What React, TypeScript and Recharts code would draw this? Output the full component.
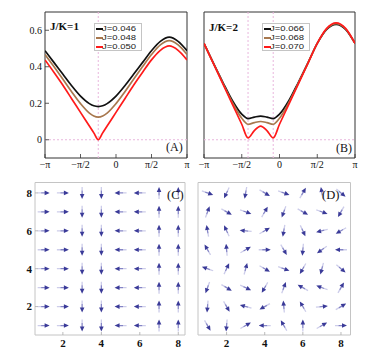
import React from 'react';
import { LineChart, Line, XAxis, YAxis, ReferenceLine, ReferenceArea, ScatterChart, Scatter } from 'recharts';

const PI = Math.PI;

// ---- Panel A (J/K=1), k in units of pi ----
const kA = [-1, -0.875, -0.75, -0.625, -0.5, -0.375, -0.3125, -0.25, -0.1875, -0.125, 0, 0.125, 0.25, 0.375, 0.5, 0.625, 0.75, 0.875, 1];
const blackA = [0.488, 0.424, 0.36, 0.296, 0.239, 0.198, 0.186, 0.182, 0.186, 0.198, 0.239, 0.296, 0.36, 0.424, 0.488, 0.539, 0.562, 0.539, 0.488];
const brownA = [0.467, 0.401, 0.333, 0.263, 0.198, 0.146, 0.13, 0.124, 0.13, 0.146, 0.198, 0.263, 0.333, 0.401, 0.467, 0.52, 0.543, 0.52, 0.467];
const redA = [0.4375, 0.37, 0.3, 0.225, 0.15, 0.075, 0.0375, 0, 0.0375, 0.075, 0.15, 0.225, 0.3, 0.37, 0.4375, 0.49, 0.514, 0.49, 0.4375];
const legendA = ['J=0.046', 'J=0.048', 'J=0.050'];

// ---- Panel B (J/K=2) ----
const kB = [-1, -0.875, -0.75, -0.625, -0.5, -0.4167, -0.3333, -0.25, -0.1667, -0.0833, 0, 0.125, 0.25, 0.375, 0.5, 0.625, 0.75, 0.875, 1];
const blackB = [0.528, 0.42, 0.315, 0.215, 0.14, 0.116, 0.124, 0.13, 0.124, 0.116, 0.14, 0.215, 0.315, 0.42, 0.528, 0.605, 0.632, 0.605, 0.528];
const brownB = [0.528, 0.418, 0.31, 0.205, 0.118, 0.085, 0.094, 0.1, 0.094, 0.085, 0.118, 0.205, 0.31, 0.418, 0.528, 0.607, 0.636, 0.607, 0.528];
const redB = [0.528, 0.417, 0.306, 0.195, 0.085, 0.01, 0.05, 0.075, 0.05, 0.01, 0.085, 0.195, 0.306, 0.417, 0.528, 0.61, 0.64, 0.61, 0.528];
const legendB = ['J=0.066', 'J=0.068', 'J=0.070'];

const xTicks = [-PI, -PI / 2, 0, PI / 2, PI];
const xTickLabels = ['\u2212\u03c0', '\u2212\u03c0/2', '0', '\u03c0/2', '\u03c0'];
const yTicksA = [0, 0.2, 0.4, 0.6];
const yTickLabelsA = ['0', '0.2', '0.4', '0.6'];
const dashedA = [-0.25];
const dashedB = [-0.4167, -0.0833];

// ---- Panels C, D: arrow angles (degrees), rows from y=8 (top) to y=1 ----
const gridTicks = [2, 4, 6, 8];
const anglesC = [
  [0, 0, -90, -90, 180, 180, 90, 90],
  [0, 0, -90, -90, 180, 180, 90, 90],
  [0, 0, -90, -90, 180, 180, 90, 90],
  [0, 0, -90, -90, 180, 180, 90, 90],
  [0, 0, -90, -90, 180, 180, 90, 90],
  [0, 0, -90, -90, 180, 180, 90, 90],
  [0, 0, -90, -90, 180, 180, 90, 90],
  [0, 0, -90, -90, 180, 180, 90, 90],
];
const anglesD = [
  [-20, -115, -100, -30, -20, 60, 100, -40],
  [70, -30, -20, 60, -110, -30, -20, -120],
  [100, 115, 175, 30, -100, -65, 195, -150],
  [120, 95, 30, 0, -60, -95, -145, 180],
  [160, 65, 75, -30, -20, -120, -105, -40],
  [-110, -30, -25, -120, 70, 150, 160, 60],
  [-95, -60, 165, -150, 95, 120, 5, 30],
  [-60, -95, 30, 180, 120, 90, 30, 0],
];

const BLACK = '#111111';
const BROWN = '#a8784e';
const RED = '#ff1a1a';
const PINK = '#e9b6dd';
const SERIF = '"Liberation Serif", "DejaVu Serif", serif';
const SANS = '"Liberation Sans", Arial, sans-serif';

const makeRows = (ks: number[], b: number[], br: number[], r: number[]) =>
  ks.map((k, i) => ({ k: k * PI, black: b[i], brown: br[i], red: r[i] }));
const dataA = makeRows(kA, blackA, brownA, redA);
const dataB = makeRows(kB, blackB, brownB, redB);

const makeGrid = (angles: number[][]) => {
  const pts: { x: number; y: number; a: number }[] = [];
  angles.forEach((row, r) => row.forEach((a, c) => pts.push({ x: c + 1, y: 8 - r, a })));
  return pts;
};
const gridC = makeGrid(anglesC);
const gridD = makeGrid(anglesD);

const TM = 3;
const XTickLine = (props: any) => {
  const { x, y, payload } = props;
  const idx = xTicks.findIndex((t) => Math.abs(t - payload.value) < 1e-6);
  const ay = y - TM;
  return (
    <g>
      <line x1={x} x2={x} y1={ay} y2={ay - 4} stroke="#333" strokeWidth={0.8} />
      <text x={x} y={y} dy="0.71em" textAnchor="middle" fontFamily={SERIF} fontSize={10} fill="#111">
        {idx >= 0 ? xTickLabels[idx] : ''}
      </text>
    </g>
  );
};
const YTickLine = (props: any) => {
  const { x, y, payload } = props;
  const idx = yTicksA.findIndex((t) => Math.abs(t - payload.value) < 1e-6);
  const ax = x + TM;
  return (
    <g>
      <line x1={ax} x2={ax + 4} y1={y} y2={y} stroke="#333" strokeWidth={0.8} />
      <text x={x} y={y} dy="0.355em" textAnchor="end" fontFamily={SERIF} fontSize={10} fill="#111">
        {idx >= 0 ? yTickLabelsA[idx] : ''}
      </text>
    </g>
  );
};
const GM = 4;
const GridXTick = (props: any) => {
  const { x, y, payload } = props;
  const ay = y - GM;
  return (
    <g>
      <line x1={x} x2={x} y1={ay} y2={ay - 3} stroke="#aaa" strokeWidth={0.8} />
      <text x={x} y={y} dy="0.71em" textAnchor="middle" fontFamily={SERIF} fontWeight="bold" fontSize={11} fill="#111">
        {payload.value}
      </text>
    </g>
  );
};
const GridYTick = (props: any) => {
  const { x, y, payload } = props;
  const ax = x + 3;
  return (
    <g>
      <line x1={ax} x2={ax + 3} y1={y} y2={y} stroke="#aaa" strokeWidth={0.8} />
      <text x={x} y={y} dy="0.355em" textAnchor="end" fontFamily={SERIF} fontWeight="bold" fontSize={11} fill="#111">
        {payload.value}
      </text>
    </g>
  );
};

const Arrow = (props: any) => {
  const { cx, cy, payload } = props;
  if (cx == null || cy == null) return null;
  const a = (payload.a * PI) / 180;
  const ux = Math.cos(a);
  const uy = -Math.sin(a);
  const L = 12;
  const H = 5;
  const W = 2.3;
  const tx = cx - (ux * L) / 2;
  const ty = cy - (uy * L) / 2;
  const hx = cx + (ux * L) / 2;
  const hy = cy + (uy * L) / 2;
  const bx = hx - ux * H;
  const by = hy - uy * H;
  const mx = (tx + bx) / 2;
  const my = (ty + by) / 2;
  const px = -uy;
  const py = ux;
  return (
    <g>
      <line x1={tx} y1={ty} x2={mx} y2={my} stroke="#cdcdea" strokeWidth={1.3} />
      <line x1={mx} y1={my} x2={bx + ux * 0.5} y2={by + uy * 0.5} stroke="#8585c6" strokeWidth={1.3} />
      <polygon
        points={`${hx},${hy} ${bx + px * W},${by + py * W} ${bx - px * W},${by - py * W}`}
        fill="#3a3a98"
      />
    </g>
  );
};

const LegendBox = ({ left, labels }: { left: number; labels: string[] }) => {
  const colors = [BLACK, BROWN, RED];
  return (
    <div
      style={{
        position: 'absolute',
        left,
        top: 23,
        width: 48,
        height: 28,
        border: '1px solid #c4c4c4',
        background: '#fff',
        boxSizing: 'border-box',
      }}
    >
      {labels.map((lab, i) => (
        <div key={lab} style={{ position: 'absolute', left: 0, top: i * 9, height: 9, width: 46 }}>
          <div style={{ position: 'absolute', left: 1, top: 4, width: 7, height: 1.6, background: colors[i] }} />
          <div
            style={{
              position: 'absolute',
              left: 7,
              top: 0,
              fontFamily: SANS,
              fontSize: 9.5,
              lineHeight: '9px',
              height: 9,
              color: '#222',
              whiteSpace: 'nowrap',
              transform: 'scale(1, 0.84)',
              transformOrigin: '0 50%',
            }}
          >
            {lab}
          </div>
        </div>
      ))}
    </div>
  );
};

const textStyle = (left: number, top: number, size: number, bold = false): React.CSSProperties => ({
  position: 'absolute',
  left,
  top,
  fontFamily: SERIF,
  fontSize: size,
  fontWeight: bold ? 'bold' : 'normal',
  lineHeight: `${size + 1}px`,
  color: '#111',
  whiteSpace: 'nowrap',
});

const Lines = () => (
  <>
    <Line type="monotone" dataKey="black" stroke={BLACK} strokeWidth={1.7} dot={false} isAnimationActive={false} />
    <Line type="monotone" dataKey="brown" stroke={BROWN} strokeWidth={1.7} dot={false} isAnimationActive={false} />
    <Line type="monotone" dataKey="red" stroke={RED} strokeWidth={1.7} dot={false} isAnimationActive={false} />
  </>
);

export default function App() {
  return (
    <div style={{ position: 'absolute', left: 0, top: 0, width: 382, height: 355, background: '#fff', overflow: 'hidden' }}>
      {/* Panel A */}
      <div style={{ position: 'absolute', left: 0, top: 0 }}>
        <LineChart width={191} height={175} data={dataA} margin={{ top: 12, right: 4, bottom: 0, left: 15 }}>
          <XAxis
            type="number"
            dataKey="k"
            domain={[-PI, PI]}
            ticks={xTicks}
            tick={<XTickLine />}
            tickSize={0}
            tickMargin={TM}
            height={17}
            axisLine={false}
            allowDataOverflow
            interval={0}
          />
          <YAxis
            type="number"
            domain={[-0.1, 0.7]}
            ticks={yTicksA}
            tick={<YTickLine />}
            tickSize={0}
            tickMargin={TM}
            width={30}
            axisLine={false}
            allowDataOverflow
            interval={0}
          />
          {dashedA.map((d) => (
            <ReferenceLine key={d} x={d * PI} stroke={PINK} strokeDasharray="2 2" />
          ))}
          <ReferenceLine y={0} stroke={PINK} strokeDasharray="2 2" />
          {Lines()}
          <ReferenceArea x1={-PI} x2={PI} y1={-0.1} y2={0.7} fill="none" fillOpacity={0} stroke="#333" strokeWidth={1} ifOverflow="visible" />
        </LineChart>
      </div>
      {/* Panel B */}
      <div style={{ position: 'absolute', left: 191, top: 0 }}>
        <LineChart width={191} height={175} data={dataB} margin={{ top: 12, right: 27, bottom: 0, left: 13 }}>
          <XAxis
            type="number"
            dataKey="k"
            domain={[-PI, PI]}
            ticks={xTicks}
            tick={<XTickLine />}
            tickSize={0}
            tickMargin={TM}
            height={17}
            axisLine={false}
            allowDataOverflow
            interval={0}
          />
          <YAxis type="number" domain={[-0.1, 0.7]} hide allowDataOverflow />
          {dashedB.map((d) => (
            <ReferenceLine key={d} x={d * PI} stroke={PINK} strokeDasharray="2 2" />
          ))}
          <ReferenceLine y={0} stroke={PINK} strokeDasharray="2 2" />
          {Lines()}
          <ReferenceArea x1={-PI} x2={PI} y1={-0.1} y2={0.7} fill="none" fillOpacity={0} stroke="#333" strokeWidth={1} ifOverflow="visible" />
        </LineChart>
      </div>
      {/* Panel C */}
      <div style={{ position: 'absolute', left: 0, top: 175 }}>
        <ScatterChart width={191} height={180} margin={{ top: 7.5, right: 6, bottom: 0, left: 0 }}>
          <XAxis
            type="number"
            dataKey="x"
            domain={[0.55, 8.35]}
            ticks={gridTicks}
            tick={<GridXTick />}
            tickSize={0}
            tickMargin={GM}
            height={20}
            axisLine={false}
            allowDataOverflow
            interval={0}
          />
          <YAxis
            type="number"
            dataKey="y"
            domain={[0.5, 8.55]}
            ticks={gridTicks}
            tick={<GridYTick />}
            tickSize={0}
            tickMargin={3}
            width={35}
            axisLine={false}
            allowDataOverflow
            interval={0}
          />
          <ReferenceArea x1={0.55} x2={8.35} y1={0.5} y2={8.55} fill="none" fillOpacity={0} stroke="#c4c4c4" strokeWidth={1} ifOverflow="visible" />
          <Scatter data={gridC} shape={<Arrow />} isAnimationActive={false} />
        </ScatterChart>
      </div>
      {/* Panel D */}
      <div style={{ position: 'absolute', left: 191, top: 175 }}>
        <ScatterChart width={191} height={180} margin={{ top: 7.5, right: 31.5, bottom: 0, left: 7 }}>
          <XAxis
            type="number"
            dataKey="x"
            domain={[0.5, 8.5]}
            ticks={gridTicks}
            tick={<GridXTick />}
            tickSize={0}
            tickMargin={GM}
            height={20}
            axisLine={false}
            allowDataOverflow
            interval={0}
          />
          <YAxis type="number" dataKey="y" domain={[0.5, 8.55]} hide allowDataOverflow />
          <ReferenceArea x1={0.5} x2={8.5} y1={0.5} y2={8.55} fill="none" fillOpacity={0} stroke="#c4c4c4" strokeWidth={1} ifOverflow="visible" />
          <Scatter data={gridD} shape={<Arrow />} isAnimationActive={false} />
        </ScatterChart>
      </div>

      <LegendBox left={94} labels={legendA} />
      <LegendBox left={262} labels={legendB} />
      <div style={textStyle(50, 20, 11, true)}>J/K=1</div>
      <div style={textStyle(209, 21, 11, true)}>J/K=2</div>
      <div style={textStyle(166, 141, 12)}>(A)</div>
      <div style={textStyle(336, 142, 12)}>(B)</div>
      <div style={textStyle(167, 189, 12.5)}>(C)</div>
      <div style={textStyle(322, 189, 12.5)}>(D)</div>
    </div>
  );
}
